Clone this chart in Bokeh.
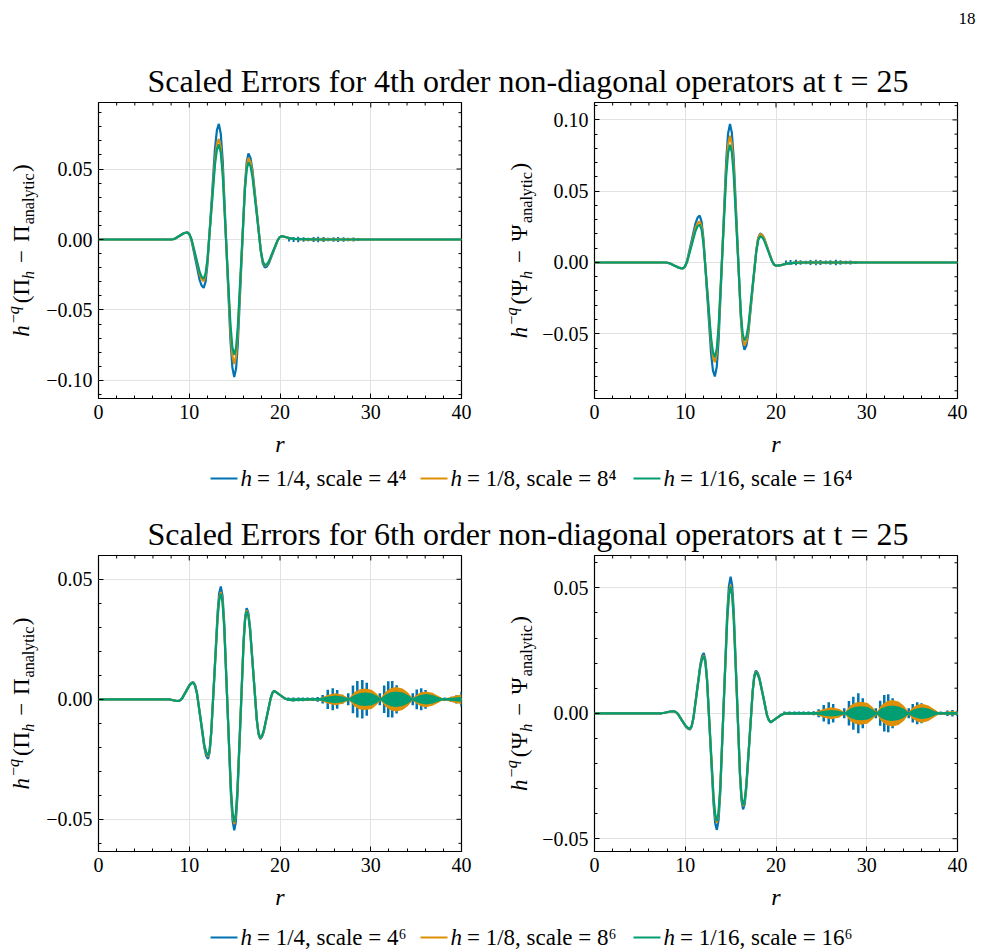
import math
from bokeh.plotting import figure
from bokeh.models import Range1d, FixedTicker, CustomJSTickFormatter
from bokeh.layouts import column, row
from bokeh.core.properties import value
from bokeh.embed import file_html
from bokeh.resources import INLINE

FONT = "Liberation Serif"
BLUE, ORANGE, GREEN = "#0173B2", "#DE8F05", "#029E73"

# ---------------- text ----------------
page_number = "18"
titles = ["Scaled Errors for 4th order non-diagonal operators at t = 25",
          "Scaled Errors for 6th order non-diagonal operators at t = 25"]
h_labels = ["1/4", "1/8", "1/16"]
scale_bases = ["4", "8", "16"]
scale_sups = ["\u2074", "\u2076"]   # 4 and 6
x_ticks = [0, 10, 20, 30, 40]
yticks_tl = [-0.10, -0.05, 0.0, 0.05]
yticks_tr = [-0.05, 0.0, 0.05, 0.10]
yticks_b = [-0.05, 0.0, 0.05]

# ---------------- top-left: Pi, 4th order ----------------
tl_r = [0.0, 8.0, 8.225, 8.45, 8.9, 9.35, 9.575, 9.8, 10.02, 10.25, 10.70, 11.14, 11.37, 11.59,
        11.80, 12.01, 12.43, 12.84, 13.05, 13.26, 13.47, 13.69, 14.11, 14.54, 14.75, 14.96,
        15.16, 15.35, 15.74, 16.13, 16.33, 16.52, 16.75, 16.97, 17.43, 17.88, 18.10, 18.33,
        18.56, 18.80, 19.26, 19.73, 19.96, 20.19, 20.6, 21.0, 21.5, 22.5, 24.0, 40.0]
tl_g = [0, 0, .0002, .0007, .0025, .0043, .0048, .0050, .0038, .0002, -.0114, -.0229, -.0265, -.0277,
        -.0241, -.0138, .0199, .0535, .0638, .0674, .0617, .0456, -.0073, -.0602, -.0763, -.0820,
        -.0768, -.0620, -.0136, .0348, .0496, .0548, .0520, .0441, .0183, -.0075, -.0154, -.0182,
        -.0174, -.0152, -.0079, -.0006, .0016, .0024, .0018, .0010, .0005, .0002, 0, 0]
tl_o = [0, 0, .0002, .0007, .0025, .0043, .0048, .0050, .0037, .0000, -.0123, -.0245, -.0282, -.0295,
        -.0257, -.0148, .0210, .0567, .0676, .0714, .0653, .0481, -.0085, -.0651, -.0823, -.0884,
        -.0828, -.0670, -.0153, .0365, .0523, .0579, .0550, .0467, .0196, -.0075, -.0158, -.0187,
        -.0179, -.0156, -.0081, -.0007, .0016, .0024, .0018, .0010, .0005, .0002, 0, 0]
tl_b = [0, 0, .0002, .0007, .0025, .0043, .0048, .0050, .0035, -.0007, -.0147, -.0286, -.0328, -.0343,
        -.0299, -.0173, .0239, .0650, .0776, .0820, .0752, .0558, -.0078, -.0714, -.0908, -.0976,
        -.0916, -.0744, -.0183, .0378, .0550, .0610, .0579, .0492, .0206, -.0081, -.0168, -.0199,
        -.0191, -.0166, -.0087, -.0009, .0016, .0024, .0018, .0010, .0005, .0002, 0, 0]
tl_nb_r = [21.0, 21.5, 22.0, 22.6, 23.1, 23.7, 24.2, 24.8, 25.3, 25.9, 26.4, 27.0, 27.5, 28.1, 28.6]
tl_nb_a = [.0015, .0018, .0020, .0016, .0012, .0018, .0020, .0018, .0012, .0016, .0018, .0016, .0012, .0014, .0010]
tl_no_r = [22.2, 22.8, 23.4, 24.0, 24.6, 25.2, 25.8, 26.4, 27.0, 27.6, 28.2]
tl_no_a = [.0008, .0010, .0008, .0010, .0012, .0008, .0010, .0010, .0008, .0010, .0008]

# ---------------- top-right: Psi, 4th order ----------------
tr_r = [0.0, 7.8, 8.04, 8.29, 8.77, 9.26, 9.50, 9.74, 9.97, 10.20, 10.67, 11.13, 11.36, 11.59,
        11.80, 12.01, 12.43, 12.84, 13.05, 13.26, 13.47, 13.68, 14.10, 14.51, 14.72, 14.93,
        15.13, 15.33, 15.73, 16.12, 16.32, 16.52, 16.74, 16.96, 17.39, 17.83, 18.04, 18.26,
        18.48, 18.70, 19.13, 19.57, 19.78, 20.0, 20.6, 21.2, 22.0, 23.0, 40.0]
tr_g = [0, 0, -.0002, -.0006, -.0021, -.0036, -.0040, -.0042, -.0030, .0003, .0112, .0221, .0254, .0266,
        .0231, .0130, -.0199, -.0528, -.0629, -.0664, -.0607, -.0447, .0081, .0608, .0768, .0825,
        .0773, .0625, .0139, -.0347, -.0496, -.0548, -.0520, -.0441, -.0182, .0077, .0156, .0184,
        .0176, .0154, .0081, .0007, -.0015, -.0023, -.0018, -.0008, -.0003, 0, 0]
tr_o = [0, 0, -.0002, -.0006, -.0021, -.0036, -.0040, -.0042, -.0029, .0006, .0124, .0241, .0276, .0289,
        .0251, .0145, -.0205, -.0555, -.0661, -.0699, -.0639, -.0467, .0095, .0656, .0828, .0888,
        .0832, .0673, .0153, -.0368, -.0527, -.0583, -.0553, -.0469, -.0192, .0086, .0170, .0200,
        .0192, .0167, .0089, .0010, -.0014, -.0023, -.0018, -.0008, -.0003, 0, 0]
tr_b = [0, 0, -.0002, -.0006, -.0021, -.0036, -.0040, -.0042, -.0028, .0012, .0144, .0275, .0315, .0329,
        .0286, .0164, -.0236, -.0635, -.0757, -.0800, -.0733, -.0541, .0086, .0713, .0905, .0972,
        .0912, .0741, .0180, -.0382, -.0553, -.0613, -.0582, -.0494, -.0205, .0084, .0172, .0203,
        .0194, .0170, .0090, .0010, -.0014, -.0023, -.0018, -.0008, -.0003, 0, 0]
tr_nb_r = [21.1, 21.6, 22.2, 22.7, 23.3, 23.8, 24.4, 24.9, 25.5, 26.0, 26.6, 27.1, 27.7, 28.2, 28.8]
tr_nb_a = [.0014, .0018, .0020, .0016, .0012, .0017, .0020, .0018, .0013, .0016, .0019, .0016, .0012, .0014, .0010]
tr_no_r = [22.0, 22.6, 23.2, 23.8, 24.4, 25.0, 25.6, 26.2, 26.8, 27.4, 28.0, 28.5]
tr_no_a = [.0008, .0010, .0009, .0010, .0012, .0010, .0011, .0010, .0009, .0010, .0009, .0008]

# ---------------- bottom-left: Pi, 6th order ----------------
bl_r = [0.0, 7.6, 7.75, 7.90, 8.21, 8.51, 8.66, 8.81, 9.01, 9.22, 9.63, 10.03, 10.24, 10.44,
        10.64, 10.85, 11.26, 11.66, 11.87, 12.07, 12.25, 12.42, 12.78, 13.13, 13.30, 13.48,
        13.67, 13.85, 14.22, 14.59, 14.78, 14.96, 15.13, 15.30, 15.65, 15.99, 16.16, 16.33,
        16.52, 16.70, 17.07, 17.44, 17.63, 17.81, 18.00, 18.20, 18.59, 18.98, 19.18, 19.37,
        20.1, 20.6, 21.0, 21.5, 22.0, 23.0, 40.0]
bl_g = [0, 0, .0000, -.0001, -.0004, -.0006, -.0007, -.0007, -.0004, .0004, .0031, .0058, .0066, .0069,
        .0057, .0025, -.0083, -.0190, -.0222, -.0234, -.0208, -.0136, .0103, .0342, .0414, .0440,
        .0404, .0301, -.0036, -.0372, -.0475, -.0511, -.0478, -.0383, -.0073, .0238, .0333, .0366,
        .0346, .0289, .0103, -.0083, -.0140, -.0160, -.0153, -.0132, -.0063, .0006, .0028, .0035,
        .0015, .0002, -.0003, -.0004, -.0002, 0, 0]
bl_o = [0, 0, .0000, -.0001, -.0004, -.0006, -.0007, -.0007, -.0004, .0004, .0032, .0059, .0067, .0070,
        .0058, .0025, -.0084, -.0193, -.0226, -.0238, -.0212, -.0138, .0105, .0347, .0421, .0447,
        .0410, .0306, -.0037, -.0379, -.0483, -.0520, -.0486, -.0390, -.0075, .0240, .0336, .0370,
        .0350, .0292, .0104, -.0084, -.0142, -.0162, -.0155, -.0134, -.0064, .0006, .0028, .0035,
        .0015, .0002, -.0003, -.0004, -.0002, 0, 0]
bl_b = [0, 0, .0000, -.0001, -.0004, -.0006, -.0007, -.0007, -.0004, .0005, .0033, .0060, .0069, .0072,
        .0060, .0025, -.0088, -.0201, -.0236, -.0248, -.0221, -.0143, .0111, .0365, .0443, .0470,
        .0431, .0322, -.0038, -.0398, -.0507, -.0546, -.0511, -.0411, -.0083, .0245, .0345, .0380,
        .0359, .0300, .0108, -.0085, -.0145, -.0165, -.0158, -.0137, -.0065, .0005, .0028, .0035,
        .0015, .0002, -.0003, -.0004, -.0002, 0, 0]

# ---------------- bottom-right: Psi, 6th order ----------------
br_r = [0.0, 7.2, 7.39, 7.59, 7.97, 8.36, 8.55, 8.74, 8.96, 9.19, 9.63, 10.08, 10.30, 10.52,
        10.71, 10.90, 11.28, 11.66, 11.85, 12.04, 12.22, 12.40, 12.76, 13.12, 13.30, 13.48,
        13.67, 13.86, 14.24, 14.62, 14.81, 15.00, 15.17, 15.34, 15.69, 16.03, 16.20, 16.37,
        16.55, 16.72, 17.08, 17.43, 17.60, 17.78, 17.98, 18.19, 18.60, 19.00, 19.21, 19.41,
        20.1, 20.6, 21.0, 21.5, 40.0]
br_g = [0, 0, .0000, .0001, .0004, .0007, .0008, .0008, .0005, -.0002, -.0027, -.0051, -.0058, -.0061,
        -.0050, -.0019, .0083, .0185, .0216, .0227, .0202, .0131, -.0102, -.0334, -.0405, -.0430,
        -.0394, -.0293, .0038, .0368, .0469, .0505, .0472, .0378, .0070, -.0239, -.0333, -.0366,
        -.0346, -.0289, -.0102, .0086, .0143, .0163, .0155, .0134, .0064, -.0007, -.0027, -.0036,
        -.0018, -.0006, -.0001, 0, 0]
br_o = [0, 0, .0000, .0001, .0004, .0007, .0008, .0008, .0005, -.0002, -.0027, -.0052, -.0059, -.0062,
        -.0051, -.0019, .0084, .0187, .0219, .0230, .0205, .0133, -.0104, -.0340, -.0412, -.0437,
        -.0401, -.0298, .0038, .0373, .0476, .0512, .0478, .0383, .0071, -.0241, -.0336, -.0370,
        -.0350, -.0292, -.0103, .0087, .0145, .0165, .0157, .0135, .0065, -.0007, -.0027, -.0036,
        -.0018, -.0006, -.0001, 0, 0]
br_b = [0, 0, .0000, .0001, .0004, .0007, .0008, .0008, .0005, -.0003, -.0029, -.0054, -.0062, -.0065,
        -.0053, -.0020, .0088, .0195, .0228, .0240, .0213, .0137, -.0113, -.0362, -.0438, -.0465,
        -.0427, -.0318, .0040, .0398, .0507, .0545, .0510, .0410, .0081, -.0248, -.0348, -.0383,
        -.0362, -.0302, -.0107, .0089, .0149, .0170, .0162, .0139, .0067, -.0006, -.0027, -.0036,
        -.0018, -.0006, -.0001, 0, 0]

# ---------------- 6th order high-frequency noise (r > 20) ----------------
bar_r = [20.93, 21.48, 22.04, 22.52, 23.04, 23.59, 24.15, 24.70, 25.26, 25.81, 26.30, 26.85,
         27.52, 28.04, 28.52, 29.07, 29.56, 30.0, 31.0, 31.48, 31.93, 32.37, 32.85, 33.33,
         34.15, 34.63, 35.07, 35.56, 36.04, 36.48, 37.04, 37.59, 38.15, 38.89, 39.44, 40.0]
bl_bar_a = [.0007, .0008, .0008, .0008, .0007, .0007, .0010, .0018, .0040, .0046, .0039, .0019,
            .0025, .0058, .0076, .0080, .0069, .0030, .0025, .0057, .0075, .0076, .0059, .0028,
            .0014, .0025, .0041, .0046, .0039, .0024, .0011, .0007, .0007, .0011, .0017, .0030]
br_bar_a = [.0007, .0007, .0007, .0007, .0007, .0007, .0008, .0016, .0033, .0044, .0037, .0016,
            .0020, .0049, .0066, .0080, .0060, .0027, .0020, .0050, .0073, .0076, .0060, .0027,
            .0010, .0020, .0037, .0044, .0040, .0023, .0011, .0007, .0007, .0011, .0013, .0011]
env_r = [21.0, 22.0, 23.0, 24.0, 24.6, 25.3, 26.1, 26.9, 27.6, 28.2, 28.8, 29.4, 30.1, 30.6, 31.1,
         31.6, 32.2, 32.8, 33.5, 34.1, 34.6, 35.1, 35.6, 36.1, 36.8, 37.4, 38.0, 38.6, 39.3, 40.0]
bl_env_o = [.0003, .0003, .0003, .0003, .0008, .0019, .0025, .0019, .0004, .0030, .0042, .0045, .0040, .0025, .0005,
            .0030, .0046, .0051, .0045, .0028, .0005, .0020, .0030, .0033, .0027, .0015, .0003, .0008, .0015, .0020]
bl_env_g = [.0004, .0004, .0004, .0004, .0006, .0012, .0016, .0012, .0003, .0018, .0026, .0028, .0025, .0016, .0003,
            .0019, .0029, .0032, .0028, .0018, .0003, .0013, .0019, .0022, .0018, .0010, .0002, .0005, .0008, .0010]
br_env_o = [.0003, .0003, .0003, .0003, .0008, .0018, .0024, .0018, .0004, .0032, .0043, .0046, .0041, .0026, .0005,
            .0032, .0048, .0053, .0047, .0030, .0005, .0024, .0034, .0038, .0031, .0017, .0003, .0006, .0008, .0007]
br_env_g = [.0003, .0004, .0004, .0004, .0005, .0010, .0013, .0010, .0003, .0019, .0026, .0028, .0025, .0016, .0003,
            .0020, .0028, .0031, .0027, .0018, .0003, .0014, .0020, .0023, .0019, .0010, .0002, .0004, .0005, .0005]

# ---------------- helpers ----------------
YFMT = "return tick.toFixed(2).replace('-', '\u2212');"
FRAME_W = 363
MID = 0.34   # distance from baseline to the middle of a text box, in em


def style_axis(ax, ticks, minor, fmt=None):
    ax.ticker = FixedTicker(ticks=ticks, minor_ticks=minor)
    ax.major_tick_in = 5
    ax.major_tick_out = 0
    ax.minor_tick_in = 3
    ax.minor_tick_out = 0
    ax.major_tick_line_color = "black"
    ax.minor_tick_line_color = "black"
    ax.major_tick_line_width = 1
    ax.minor_tick_line_width = 1
    ax.axis_line_color = None
    ax.major_label_text_font = FONT
    ax.major_label_text_font_size = "20px"
    ax.major_label_text_color = "black"
    ax.major_label_standoff = 6
    if fmt is not None:
        ax.formatter = fmt


def strip(w, h, tb=0, bb=0):
    p = figure(width=w, height=h + tb + bb, x_range=Range1d(0, w), y_range=Range1d(0, h), title=None,
               output_backend="svg", toolbar_location=None, min_border=0,
               min_border_top=tb, min_border_bottom=bb,
               x_axis_location=None, y_axis_location=None)
    p.grid.visible = False
    p.outline_line_color = None
    return p


def ylabel_strip(w, frame_h, tb, bb, xb, big, big_adv):
    # the strip's frame has exactly the same vertical extent as the neighbouring panel's frame
    p = strip(w, frame_h, tb, bb)
    fs = 23.0
    sb = 0.7
    pieces = [
        ("h", 1.0, "italic", 0.0, 0.50, 0.0),
        ("\u2212", sb, "normal", 0.45, 0.564, 2.0),
        ("q", sb, "italic", 0.45, 0.50, 0.0),
        ("(", 1.0, "normal", 0.0, 0.333, 3.0),
        (big, 1.0, "normal", 0.0, big_adv, 0.0),
        ("h", sb, "italic", -0.2, 0.50, 0.0),
        ("\u2212", 1.0, "normal", 0.0, 0.564, 8.0),
        (big, 1.0, "normal", 0.0, big_adv, 8.0),
        ("analytic", sb, "normal", -0.2, 3.166, 1.0),
        (")", 1.0, "normal", 0.0, 0.333, 1.5),
    ]
    total = sum(g + a * s * fs for _, s, _, _, a, g in pieces)
    pos = frame_h / 2.0 - total / 2.0
    for txt, s, st, rs, a, g in pieces:
        pos += g
        size = s * fs
        adv = a * size
        p.text(x=[xb - rs * fs - MID * size], y=[pos + adv / 2.0], text=[txt], angle=math.pi / 2,
               text_font=value(FONT), text_font_size=value(f"{size:.1f}px"),
               text_font_style=st, text_align="center", text_baseline="middle",
               text_color="black")
        pos += adv
    return p


def panel(width, lb, rb, frame_h, tb, bb, yr, yticks, r, b):
    p = figure(width=width, height=frame_h + tb + bb, x_range=Range1d(0, 40), y_range=Range1d(*yr),
               title=None, output_backend="svg", toolbar_location=None,
               min_border_left=lb, min_border_right=rb, min_border_top=tb, min_border_bottom=bb)
    p.outline_line_color = "black"
    p.outline_line_width = 1.2
    xminor = [v for v in range(0, 41, 2) if v % 10]
    lo = math.floor(yr[0] * 100) / 100
    yminor = [round(lo + 0.01 * k, 2) for k in range(0, 30)]
    yminor = [v for v in yminor if yr[0] <= v <= yr[1] and all(abs(v - t) > 1e-9 for t in yticks)]
    xax = p.xaxis[0]
    yax = p.yaxis[0]
    style_axis(xax, x_ticks, xminor)
    style_axis(yax, yticks, yminor, CustomJSTickFormatter(code=YFMT))
    xax.axis_label = "r"
    xax.axis_label_text_font = FONT
    xax.axis_label_text_font_style = "italic"
    xax.axis_label_text_font_size = "24px"
    xax.axis_label_text_color = "black"
    xax.axis_label_standoff = 9
    p.xgrid.grid_line_color = "#e2e2e2"
    p.ygrid.grid_line_color = "#e2e2e2"
    # inward ticks on the top and right edges of the frame
    dy = (yr[1] - yr[0]) / frame_h
    dx = 40.0 / FRAME_W
    for xs, ln in ((x_ticks, 5), (xminor, 3)):
        p.segment(x0=xs, x1=xs, y0=[yr[1]] * len(xs), y1=[yr[1] - ln * dy] * len(xs),
                  line_color="black", line_width=1)
    for ys, ln in ((yticks, 5), (yminor, 3)):
        p.segment(x0=[40.0] * len(ys), x1=[40.0 - ln * dx] * len(ys), y0=ys, y1=ys,
                  line_color="black", line_width=1)
    p.line(r, b, line_color=BLUE, line_width=2.2)
    return p


def legend_strip(w, h, yc, sup):
    p = strip(w, h)
    starts = [210, 420, 633]
    colors = [BLUE, ORANGE, GREEN]
    fs = 23
    for i, x0 in enumerate(starts):
        p.segment(x0=[x0], y0=[yc], x1=[x0 + 27], y1=[yc], line_color=colors[i], line_width=2.2)
        p.text(x=[x0 + 30], y=[yc], text=["h"], text_font=value(FONT), text_font_size=value(f"{fs}px"),
               text_font_style="italic", text_align="left", text_baseline="middle", text_color="black")
        p.text(x=[x0 + 30 + 0.5 * fs + 5], y=[yc],
               text=[f"= {h_labels[i]}, scale = {scale_bases[i]}{sup}"],
               text_font=value(FONT), text_font_size=value(f"{fs}px"),
               text_align="left", text_baseline="middle", text_color="black")
    return p


# ---------------- build ----------------
FT, FB = 296, 297          # frame heights of top and bottom panels
TB, BB_T, BB_B = 3, 64, 60

tl = panel(450, 58, 29, FT, TB, BB_T, (-0.1128, 0.0972), yticks_tl, tl_r, tl_b)
tl.segment(x0=tl_nb_r, x1=tl_nb_r, y0=[-a for a in tl_nb_a], y1=tl_nb_a, line_color=BLUE, line_width=2)
tl.line(tl_r, tl_o, line_color=ORANGE, line_width=2.2)
tl.segment(x0=tl_no_r, x1=tl_no_r, y0=[-a for a in tl_no_a], y1=tl_no_a, line_color=ORANGE, line_width=2)
tl.line(tl_r, tl_g, line_color=GREEN, line_width=2.2)

tr = panel(444, 57, 24, FT, TB, BB_T, (-0.0954, 0.1122), yticks_tr, tr_r, tr_b)
tr.segment(x0=tr_nb_r, x1=tr_nb_r, y0=[-a for a in tr_nb_a], y1=tr_nb_a, line_color=BLUE, line_width=2)
tr.line(tr_r, tr_o, line_color=ORANGE, line_width=2.2)
tr.segment(x0=tr_no_r, x1=tr_no_r, y0=[-a for a in tr_no_a], y1=tr_no_a, line_color=ORANGE, line_width=2)
tr.line(tr_r, tr_g, line_color=GREEN, line_width=2.2)

bl = panel(450, 58, 29, FB, TB, BB_B, (-0.0634, 0.0599), yticks_b, bl_r, bl_b)
bl.segment(x0=bar_r, x1=bar_r, y0=[-a for a in bl_bar_a], y1=bl_bar_a, line_color=BLUE, line_width=2.5)
bl.line(bl_r, bl_o, line_color=ORANGE, line_width=2.2)
bl.varea(x=env_r, y1=[-a for a in bl_env_o], y2=bl_env_o, fill_color=ORANGE)
bl.line(bl_r, bl_g, line_color=GREEN, line_width=2.2)
bl.varea(x=env_r, y1=[-a for a in bl_env_g], y2=bl_env_g, fill_color=GREEN)

br = panel(444, 57, 24, FB, TB, BB_B, (-0.0551, 0.0629), yticks_b, br_r, br_b)
br.segment(x0=bar_r, x1=bar_r, y0=[-a for a in br_bar_a], y1=br_bar_a, line_color=BLUE, line_width=2.5)
br.line(br_r, br_o, line_color=ORANGE, line_width=2.2)
br.varea(x=env_r, y1=[-a for a in br_env_o], y2=br_env_o, fill_color=ORANGE)
br.line(br_r, br_g, line_color=GREEN, line_width=2.2)
br.varea(x=env_r, y1=[-a for a in br_env_g], y2=br_env_g, fill_color=GREEN)

ylab_tl = ylabel_strip(40, FT, TB, BB_T, 28.5, "\u03a0", 0.72)
ylab_tr = ylabel_strip(47, FT, TB, BB_T, 37, "\u03a8", 0.78)
ylab_bl = ylabel_strip(40, FB, TB, BB_B, 28.5, "\u03a0", 0.72)
ylab_br = ylabel_strip(47, FB, TB, BB_B, 37, "\u03a8", 0.78)

header = strip(981, 99)
header.text(x=[975], y=[81], text=[page_number], text_font=value(FONT), text_font_size=value("17px"),
            text_align="right", text_baseline="middle", text_color="black")
header.text(x=[527.5], y=[19], text=[titles[0]], text_font=value(FONT), text_font_size=value("32px"),
            text_align="center", text_baseline="middle", text_color="black")

leg1 = legend_strip(981, 43, 27, scale_sups[0])

title2 = strip(981, 47)
title2.text(x=[527.5], y=[19], text=[titles[1]], text_font=value(FONT), text_font_size=value("32px"),
            text_align="center", text_baseline="middle", text_color="black")

leg2 = legend_strip(981, 38, 13, scale_sups[1])

layout = column(header,
                row(ylab_tl, tl, ylab_tr, tr),
                leg1, title2,
                row(ylab_bl, bl, ylab_br, br),
                leg2)

open("out.html", "w").write(file_html(layout, INLINE))
